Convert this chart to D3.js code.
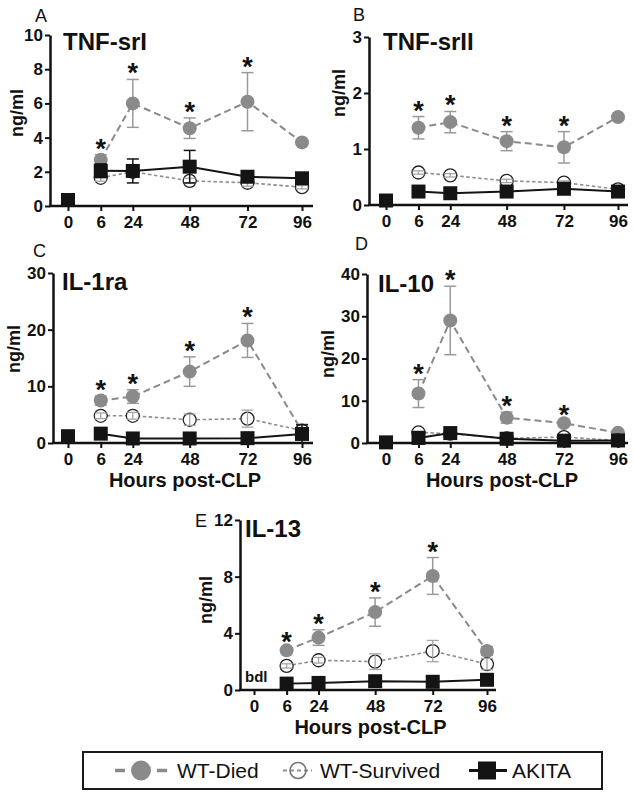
<!DOCTYPE html>
<html>
<head>
<meta charset="utf-8">
<script src="https://cdn.jsdelivr.net/npm/d3@7"></script>
<style>
  html, body { margin: 0; padding: 0; background: #fff; }
  svg { display: block; font-family: "Liberation Sans", Arial, Helvetica, sans-serif; }
</style>
</head>
<body>
<svg id="chart" width="634" height="794"></svg>
<script>
// ---------------- DATA ----------------
const hours = [0, 6, 24, 48, 72, 96];
const hourLabels = ["0", "6", "24", "48", "72", "96"];
const seriesNames = ["WT-Died", "WT-Survived", "AKITA"];
const panelTitles = ["TNF-srI", "TNF-srII", "IL-1ra", "IL-10", "IL-13"];
const panelLetters = ["A", "B", "C", "D", "E"];

// A: TNF-srI
const tnf1Ticks = [0, 2, 4, 6, 8, 10];
const tnf1Died = [null, 2.7, 6.0, 4.55, 6.1, 3.72];
const tnf1DiedErr = [0, 0.3, 1.4, 0.6, 1.7, 0.1];
const tnf1Surv = [null, 1.65, 2.0, 1.47, 1.36, 1.1];
const tnf1SurvErr = [0, 0.2, 0.3, 0.15, 0.2, 0.1];
const tnf1Akita = [0.35, 2.06, 2.05, 2.3, 1.71, 1.62];
const tnf1AkitaErr = [0.1, 0.4, 0.7, 0.95, 0.15, 0.15];

// B: TNF-srII
const tnf2Ticks = [0, 1, 2, 3];
const tnf2Died = [null, 1.38, 1.48, 1.14, 1.03, 1.57];
const tnf2DiedErr = [0, 0.2, 0.19, 0.17, 0.28, 0.03];
const tnf2Surv = [null, 0.58, 0.53, 0.43, 0.40, 0.28];
const tnf2SurvErr = [0, 0.03, 0.03, 0.03, 0.03, 0.02];
const tnf2Akita = [0.08, 0.24, 0.21, 0.24, 0.29, 0.24];
const tnf2AkitaErr = [0.02, 0.03, 0.03, 0.03, 0.03, 0.03];

// C: IL-1ra
const il1raTicks = [0, 10, 20, 30];
const il1raDied = [null, 7.5, 8.2, 12.6, 18.1, 2.1];
const il1raDiedErr = [0, 0.8, 1.2, 2.6, 3.0, 1.2];
const il1raSurv = [null, 4.8, 4.8, 4.1, 4.3, 2.2];
const il1raSurvErr = [0, 0.5, 0.6, 1.0, 1.5, 0.5];
const il1raAkita = [1.2, 1.65, 0.8, 0.8, 0.85, 1.6];
const il1raAkitaErr = [0.2, 0.2, 0.1, 0.1, 0.1, 1.6];

// D: IL-10
const il10Ticks = [0, 10, 20, 30, 40];
const il10Died = [null, 11.7, 29.0, 6.0, 4.7, 2.4];
const il10DiedErr = [0, 3.3, 8.1, 1.3, 0.4, 0.3];
const il10Surv = [null, 2.5, 2.2, 1.1, 1.4, 0.6];
const il10SurvErr = [0, 0.3, 0.3, 0.2, 0.3, 0.1];
const il10Akita = [0.15, 1.2, 2.35, 1.0, 0.55, 0.6];
const il10AkitaErr = [0.05, 0.2, 0.3, 0.2, 0.1, 0.1];

// E: IL-13 (AKITA at 0 h below detection limit)
const il13Ticks = [0, 4, 8, 12];
const il13Died = [null, 2.8, 3.7, 5.5, 8.05, 2.75];
const il13DiedErr = [0, 0.15, 0.55, 1.0, 1.3, 0.3];
const il13Surv = [null, 1.7, 2.1, 2.0, 2.75, 1.83];
const il13SurvErr = [0, 0.15, 0.2, 0.55, 0.75, 0.4];
const il13Akita = [null, 0.45, 0.5, 0.62, 0.58, 0.72];
const il13AkitaErr = [0, 0.05, 0.05, 0.05, 0.05, 0.05];
const il13Note = "bdl";

// significance marks (WT-Died vs others) at these hours
const starHours = [6, 24, 48, 72];

const panelData = [
  { ticks: tnf1Ticks, died: tnf1Died, diedErr: tnf1DiedErr, surv: tnf1Surv, survErr: tnf1SurvErr, akita: tnf1Akita, akitaErr: tnf1AkitaErr },
  { ticks: tnf2Ticks, died: tnf2Died, diedErr: tnf2DiedErr, surv: tnf2Surv, survErr: tnf2SurvErr, akita: tnf2Akita, akitaErr: tnf2AkitaErr },
  { ticks: il1raTicks, died: il1raDied, diedErr: il1raDiedErr, surv: il1raSurv, survErr: il1raSurvErr, akita: il1raAkita, akitaErr: il1raAkitaErr },
  { ticks: il10Ticks, died: il10Died, diedErr: il10DiedErr, surv: il10Surv, survErr: il10SurvErr, akita: il10Akita, akitaErr: il10AkitaErr },
  { ticks: il13Ticks, died: il13Died, diedErr: il13DiedErr, surv: il13Surv, survErr: il13SurvErr, akita: il13Akita, akitaErr: il13AkitaErr }
];

// ---------------- LAYOUT ----------------
const xFrac = [0, 0.14, 0.277, 0.52, 0.767, 1];
const layout = [
  { axisX: 50,  x0: 68,  x1: 302, xEnd: 313, y0: 206, yTop: 35,  letter: [35, 22],  title: [63, 50],  ylab: [17, 113], xlabel: false },
  { axisX: 369, x0: 386, x1: 618, xEnd: 628, y0: 205, yTop: 37,  letter: [353, 21], title: [383, 50], ylab: [339, 93], xlabel: false },
  { axisX: 53,  x0: 68,  x1: 302, xEnd: 313, y0: 443, yTop: 273, letter: [33, 257], title: [62, 290], ylab: [14, 349], xlabel: true },
  { axisX: 367, x0: 386, x1: 618, xEnd: 628, y0: 443, yTop: 274, letter: [355, 250], title: [378, 292], ylab: [328, 354], xlabel: true },
  { axisX: 240, x0: 254, x1: 487, xEnd: 496, y0: 690, yTop: 520, letter: [195, 527], title: [245, 537], ylab: [206, 600], xlabel: true, note: [245, 682] }
];

const colDied = "#8a8a8a";
const colDiedBar = "#9a9a9a";
const colSurvLine = "#8f8f8f";
const colSurvBar = "#a5a5a5";
const colAkita = "#141414";

const svg = d3.select("#chart");

panelData.forEach((pd, i) => {
  const L = layout[i];
  const g = svg.append("g");
  const x = d3.scaleLinear().domain(hours).range(xFrac.map(f => L.x0 + f * (L.x1 - L.x0)));
  const yMax = d3.max(pd.ticks);
  const y = d3.scaleLinear().domain([0, yMax]).range([L.y0, L.yTop]);

  // y axis
  const ya = g.append("g").attr("transform", `translate(${L.axisX},0)`)
    .call(d3.axisLeft(y).tickValues(pd.ticks).tickFormat(d3.format("d")).tickSize(5).tickSizeOuter(0).tickPadding(2));
  ya.select(".domain").attr("stroke", "#111").attr("stroke-width", 2.5);
  ya.selectAll(".tick line").attr("stroke", "#111").attr("stroke-width", 2);
  ya.selectAll(".tick text").attr("font-size", 17).attr("font-weight", "bold").attr("fill", "#111")
    .attr("font-family", "Liberation Sans, Arial, sans-serif");

  // x axis
  const xa = g.append("g").attr("transform", `translate(0,${L.y0})`)
    .call(d3.axisBottom(x).tickValues(hours).tickFormat((d, k) => hourLabels[k]).tickSize(5).tickSizeOuter(0).tickPadding(5));
  xa.select(".domain").remove();
  xa.append("line").attr("x1", L.axisX - 1).attr("x2", L.xEnd).attr("y1", 0).attr("y2", 0)
    .attr("stroke", "#111").attr("stroke-width", 2.5);
  xa.selectAll(".tick line").attr("stroke", "#111").attr("stroke-width", 2);
  xa.selectAll(".tick text").attr("font-size", 17).attr("font-weight", "bold").attr("fill", "#111")
    .attr("font-family", "Liberation Sans, Arial, sans-serif");

  // labels
  g.append("text").attr("x", L.letter[0]).attr("y", L.letter[1]).attr("font-size", 18).attr("fill", "#111").text(panelLetters[i]);
  g.append("text").attr("x", L.title[0]).attr("y", L.title[1]).attr("font-size", 24).attr("font-weight", "bold").attr("fill", "#111").text(panelTitles[i]);
  g.append("text").attr("transform", `translate(${L.ylab[0]},${L.ylab[1]}) rotate(-90)`)
    .attr("text-anchor", "middle").attr("dy", "0.35em").attr("font-size", 18).attr("font-weight", "bold").attr("fill", "#111").text("ng/ml");
  if (L.xlabel) {
    g.append("text").attr("x", (L.x0 + L.x1) / 2).attr("y", L.y0 + 44).attr("text-anchor", "middle")
      .attr("font-size", 20).attr("font-weight", "bold").attr("fill", "#111").text("Hours post-CLP");
  }
  if (L.note) {
    g.append("text").attr("x", L.note[0]).attr("y", L.note[1]).attr("font-size", 15).attr("font-weight", "bold").attr("fill", "#111").text(il13Note);
  }

  const mk = (vals, errs) => hours.map((h, k) => ({ h, v: vals[k], e: errs[k] })).filter(d => d.v != null);
  const died = mk(pd.died, pd.diedErr), surv = mk(pd.surv, pd.survErr), akita = mk(pd.akita, pd.akitaErr);
  const line = d3.line().x(d => x(d.h)).y(d => y(d.v));

  function errBars(data, color, w) {
    const eb = g.append("g").attr("stroke", color).attr("stroke-width", w).attr("fill", "none");
    data.filter(d => d.e > 0).forEach(d => {
      const cx = x(d.h), t = y(d.v + d.e), b = y(Math.max(0, d.v - d.e));
      eb.append("line").attr("x1", cx).attr("x2", cx).attr("y1", t).attr("y2", b);
      eb.append("line").attr("x1", cx - 6).attr("x2", cx + 6).attr("y1", t).attr("y2", t);
      eb.append("line").attr("x1", cx - 6).attr("x2", cx + 6).attr("y1", b).attr("y2", b);
    });
  }

  // WT-Died
  g.append("path").datum(died.filter(d => d.h > 0)).attr("d", line).attr("fill", "none")
    .attr("stroke", colDied).attr("stroke-width", 2).attr("stroke-dasharray", "7,4");
  errBars(died, colDiedBar, 1.5);
  g.append("g").selectAll("circle").data(died).join("circle")
    .attr("cx", d => x(d.h)).attr("cy", d => y(d.v)).attr("r", 7).attr("fill", colDied);

  // WT-Survived
  g.append("path").datum(surv).attr("d", line).attr("fill", "none")
    .attr("stroke", colSurvLine).attr("stroke-width", 1.6).attr("stroke-dasharray", "3.5,2.5");
  g.append("g").selectAll("circle").data(surv).join("circle")
    .attr("cx", d => x(d.h)).attr("cy", d => y(d.v)).attr("r", 6.5).attr("fill", "#fff").attr("stroke", "#222").attr("stroke-width", 1.3);
  errBars(surv, colSurvBar, 1.3);

  // AKITA
  g.append("path").datum(akita.filter(d => d.h > 0)).attr("d", line).attr("fill", "none")
    .attr("stroke", colAkita).attr("stroke-width", 2);
  errBars(akita, colAkita, 1.5);
  g.append("g").selectAll("rect").data(akita).join("rect")
    .attr("x", d => x(d.h) - 7).attr("y", d => y(d.v) - 7).attr("width", 14).attr("height", 14).attr("fill", colAkita);

  // asterisks
  g.append("g").selectAll("text").data(died.filter(d => starHours.includes(d.h))).join("text")
    .attr("x", d => x(d.h)).attr("y", d => y(d.v + d.e) + 3).attr("text-anchor", "middle")
    .attr("font-size", 27).attr("font-weight", "bold").attr("fill", "#111").text("*");
});

// ---------------- LEGEND ----------------
const lg = svg.append("g");
lg.append("rect").attr("x", 83).attr("y", 752).attr("width", 519).attr("height", 37)
  .attr("fill", "#fff").attr("stroke", "#1a1a1a").attr("stroke-width", 2);
const legendItems = [
  { sym: [115, 167], cx: 141, tx: 177 },
  { sym: [283, 312], cx: 298, tx: 320 },
  { sym: [469, 507], cx: 487, tx: 512 }
];
const ly = 770.5;
// WT-Died
lg.append("line").attr("x1", legendItems[0].sym[0]).attr("x2", legendItems[0].sym[1]).attr("y1", ly).attr("y2", ly)
  .attr("stroke", colDied).attr("stroke-width", 3.5).attr("stroke-dasharray", "10,5,0,22,0,5,10");
lg.append("circle").attr("cx", legendItems[0].cx).attr("cy", ly).attr("r", 10).attr("fill", colDied);
// WT-Survived
lg.append("line").attr("x1", legendItems[1].sym[0]).attr("x2", legendItems[1].sym[1]).attr("y1", ly).attr("y2", ly)
  .attr("stroke", colSurvLine).attr("stroke-width", 2).attr("stroke-dasharray", "4,3");
lg.append("circle").attr("cx", legendItems[1].cx).attr("cy", ly).attr("r", 8).attr("fill", "none")
  .attr("stroke", "#777").attr("stroke-width", 1.6);
// AKITA
lg.append("line").attr("x1", legendItems[2].sym[0]).attr("x2", legendItems[2].sym[1]).attr("y1", ly).attr("y2", ly)
  .attr("stroke", colAkita).attr("stroke-width", 3);
lg.append("rect").attr("x", legendItems[2].cx - 9).attr("y", ly - 9).attr("width", 18).attr("height", 18).attr("fill", colAkita);
legendItems.forEach((it, k) => {
  lg.append("text").attr("x", it.tx).attr("y", 777.5).attr("font-size", 21).attr("fill", "#111").text(seriesNames[k]);
});
</script>
</body>
</html>
